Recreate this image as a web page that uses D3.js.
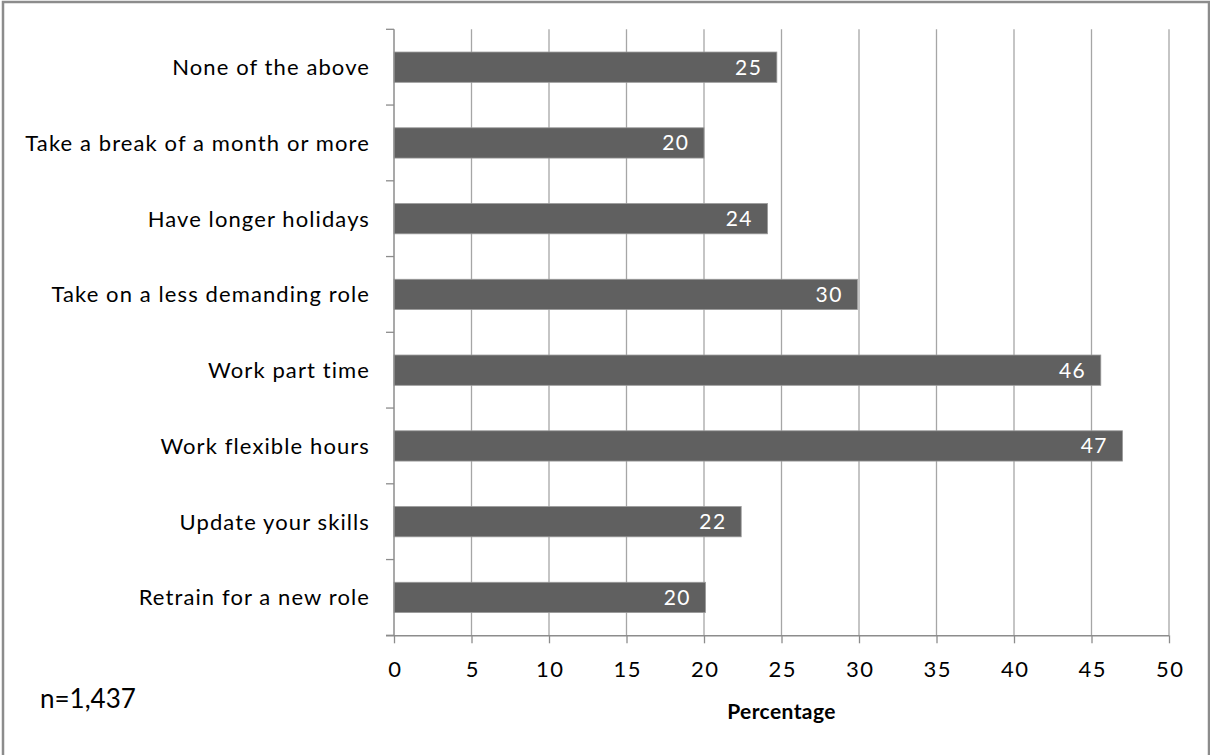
<!DOCTYPE html>
<html>
<head>
<meta charset="utf-8">
<script src="https://cdn.jsdelivr.net/npm/d3@7"></script>
<style>
  body { margin: 0; background: #fff; }
  svg text { font-family: Lato, "Open Sans", sans-serif; }
</style>
</head>
<body>
<div id="chart"></div>
<script>
// categories from top to bottom, as drawn
var categories = [
    "None of the above",
    "Take a break of a month or more",
    "Have longer holidays",
    "Take on a less demanding role",
    "Work part time",
    "Work flexible hours",
    "Update your skills",
    "Retrain for a new role"
];
var values = [24.7, 20.0, 24.1, 29.9, 45.6, 47.0, 22.4, 20.1];
var valueLabels = ["25", "20", "24", "30", "46", "47", "22", "20"];
var xTicks = [0, 5, 10, 15, 20, 25, 30, 35, 40, 45, 50];

var width = 1210, height = 755;
var plotLeft = 394, plotRight = 1169, plotTop = 29.3, plotBottom = 635.3;

var svg = d3.select("#chart").append("svg")
    .attr("width", width)
    .attr("height", height);

// outer frame
svg.append("rect")
    .attr("x", 3).attr("y", 2)
    .attr("width", 1206).attr("height", 760)
    .attr("fill", "none")
    .attr("stroke", "#8c8c8c")
    .attr("stroke-width", 2.5);

var x = d3.scaleLinear().domain([0, 50]).range([plotLeft, plotRight]);
var y = d3.scaleBand().domain(categories).range([plotTop, plotBottom])
    .paddingInner(0.6).paddingOuter(0.3);

// vertical gridlines
svg.append("g").selectAll("line")
    .data(xTicks.slice(1))
    .enter().append("line")
    .attr("x1", d => x(d)).attr("x2", d => x(d))
    .attr("y1", plotTop).attr("y2", plotBottom)
    .attr("stroke", "#a6a6a6")
    .attr("stroke-width", 1.3);

// bars
var data = categories.map((c, i) => ({ cat: c, v: values[i], lab: valueLabels[i] }));

svg.append("g").selectAll("rect")
    .data(data)
    .enter().append("rect")
    .attr("x", x(0))
    .attr("y", d => y(d.cat))
    .attr("width", d => x(d.v) - x(0))
    .attr("height", y.bandwidth())
    .attr("fill", "#606060")
    .attr("stroke", "#9a9a9a")
    .attr("stroke-width", 0.8);

svg.append("g").selectAll("text")
    .data(data)
    .enter().append("text")
    .attr("x", d => x(d.v) - 14.5)
    .attr("y", d => y(d.cat) + y.bandwidth() / 2)
    .attr("dy", "0.36em")
    .attr("text-anchor", "end")
    .attr("fill", "#fff")
    .style("font-size", "21px")
    .style("letter-spacing", "1.5px")
    .text(d => d.lab);

// y axis: ticks at band boundaries
var bounds = categories.map(c => y(c) - y.step() * y.paddingInner() / 2);
bounds[0] = plotTop;
bounds.push(plotBottom);
svg.append("line")
    .attr("x1", plotLeft).attr("x2", plotLeft)
    .attr("y1", plotTop).attr("y2", plotBottom)
    .attr("stroke", "#8c8c8c").attr("stroke-width", 1.5);
svg.append("g").selectAll("line")
    .data(bounds)
    .enter().append("line")
    .attr("x1", plotLeft - 8).attr("x2", plotLeft)
    .attr("y1", d => d).attr("y2", d => d)
    .attr("stroke", "#8c8c8c").attr("stroke-width", 1.3);

svg.append("g").selectAll("text")
    .data(categories)
    .enter().append("text")
    .attr("x", plotLeft - 24)
    .attr("y", d => y(d) + y.bandwidth() / 2)
    .attr("dy", "0.36em")
    .attr("text-anchor", "end")
    .attr("fill", "#000")
    .style("font-size", "22px")
    .style("letter-spacing", "1.1px")
    .text(d => d);

// x axis
var xAxis = d3.axisBottom(x).tickValues(xTicks).tickSize(8).tickPadding(18);
var gx = svg.append("g")
    .attr("transform", "translate(0," + plotBottom + ")")
    .call(xAxis);
gx.select(".domain").attr("stroke", "#8c8c8c").attr("stroke-width", 1.5)
    .attr("d", "M" + (plotLeft - 8) + ",0.5H" + plotRight);
gx.selectAll(".tick line").attr("stroke", "#8c8c8c").attr("stroke-width", 1.3);
gx.selectAll(".tick text")
    .attr("fill", "#000")
    .attr("dx", "0.75px")
    .style("font-size", "22px")
    .style("letter-spacing", "1.5px")
    .style("font-family", "Lato, sans-serif");

svg.append("text")
    .attr("x", (plotLeft + plotRight) / 2)
    .attr("y", 719)
    .attr("text-anchor", "middle")
    .style("font-size", "21px")
    .style("font-weight", "bold")
    .style("letter-spacing", "0.4px")
    .text("Percentage");

svg.append("text")
    .attr("x", 40)
    .attr("y", 708)
    .style("font-size", "26px")
    .text("n=1,437");
</script>
</body>
</html>
